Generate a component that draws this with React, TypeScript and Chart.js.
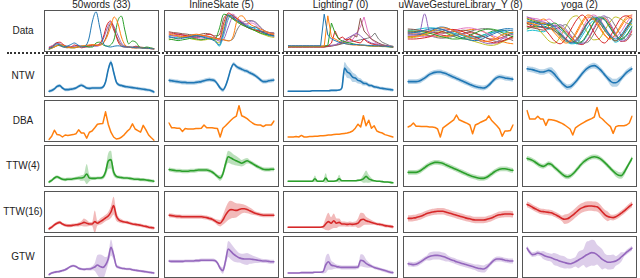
import React, { useEffect, useRef } from "react";
import { Chart, registerables } from "chart.js";
Chart.register(...registerables);

const COL_TITLES = ["50words (33)", "InlineSkate (5)", "Lighting7 (0)", "uWaveGestureLibrary_Y (8)", "yoga (2)"];
const ROW_LABELS = ["Data", "NTW", "DBA", "TTW(4)", "TTW(16)", "GTW"];
const TAB10 = ["#1f77b4", "#ff7f0e", "#2ca02c", "#d62728", "#9467bd", "#8c564b", "#e377c2", "#7f7f7f", "#bcbd22", "#17becf"];
const METHOD_COLORS = ["#1f77b4", "#ff7f0e", "#2ca02c", "#d62728", "#9467bd"];

// ---------- Data row ----------
const data50words = [
  [0.06,0.1,0.18,0.15,0.1,0.12,0.16,0.2,0.15,0.1,0.12,0.3,0.75,0.98,0.6,0.2,0.12,0.1,0.12,0.13,0.12,0.1,0.1,0.09,0.08,0.08,0.07,0.07,0.06,0.05],
  [0.05,0.08,0.12,0.16,0.14,0.1,0.08,0.08,0.1,0.12,0.14,0.15,0.16,0.15,0.14,0.2,0.35,0.6,0.85,0.7,0.35,0.15,0.1,0.08,0.07,0.08,0.07,0.06,0.06,0.05],
  [0.04,0.08,0.12,0.15,0.12,0.1,0.08,0.08,0.1,0.12,0.12,0.1,0.1,0.2,0.22,0.15,0.12,0.15,0.3,0.75,0.87,0.5,0.18,0.25,0.22,0.1,0.08,0.1,0.08,0.06],
  [0.08,0.12,0.2,0.22,0.16,0.1,0.1,0.15,0.12,0.08,0.1,0.12,0.15,0.14,0.18,0.35,0.65,0.75,0.55,0.25,0.12,0.1,0.1,0.08,0.1,0.09,0.08,0.07,0.06,0.05],
  [0.1,0.14,0.2,0.18,0.15,0.12,0.1,0.12,0.14,0.12,0.1,0.1,0.12,0.12,0.15,0.3,0.55,0.72,0.6,0.4,0.2,0.12,0.1,0.09,0.1,0.08,0.08,0.07,0.06,0.06],
  [0.05,0.1,0.15,0.13,0.1,0.08,0.09,0.1,0.1,0.12,0.12,0.14,0.15,0.14,0.16,0.2,0.4,0.68,0.5,0.3,0.15,0.12,0.1,0.1,0.12,0.1,0.09,0.08,0.07,0.06],
];
const dataInlineSkate = [
  [0.35,0.33,0.3,0.32,0.34,0.36,0.38,0.36,0.33,0.3,0.25,0.15,0.5,0.9,0.85,0.75,0.7,0.62,0.58,0.6,0.5,0.45,0.4,0.38],
  [0.42,0.4,0.38,0.36,0.37,0.4,0.42,0.4,0.38,0.35,0.32,0.3,0.28,0.25,0.35,0.8,0.88,0.75,0.65,0.6,0.55,0.5,0.45,0.42],
  [0.3,0.28,0.26,0.28,0.3,0.32,0.3,0.28,0.3,0.32,0.28,0.55,0.92,0.88,0.8,0.72,0.65,0.6,0.55,0.5,0.45,0.42,0.4,0.38],
  [0.45,0.44,0.42,0.4,0.38,0.36,0.35,0.37,0.4,0.42,0.35,0.3,0.7,0.95,0.88,0.8,0.7,0.62,0.56,0.52,0.48,0.45,0.42,0.4],
  [0.38,0.4,0.42,0.4,0.36,0.34,0.33,0.35,0.38,0.36,0.32,0.25,0.3,0.6,0.85,0.8,0.72,0.68,0.75,0.7,0.58,0.5,0.46,0.44],
  [0.48,0.46,0.45,0.43,0.42,0.4,0.4,0.42,0.44,0.42,0.38,0.4,0.82,0.9,0.82,0.75,0.68,0.6,0.55,0.52,0.5,0.48,0.46,0.45],
  [0.33,0.35,0.38,0.4,0.38,0.35,0.32,0.3,0.32,0.34,0.3,0.28,0.45,0.85,0.92,0.82,0.74,0.66,0.7,0.65,0.52,0.45,0.4,0.36],
  [0.4,0.38,0.36,0.34,0.35,0.37,0.38,0.38,0.36,0.34,0.32,0.3,0.28,0.26,0.3,0.55,0.7,0.75,0.76,0.72,0.6,0.5,0.46,0.44],
  [0.28,0.3,0.32,0.34,0.33,0.3,0.28,0.27,0.28,0.3,0.26,0.2,0.6,0.88,0.8,0.72,0.66,0.6,0.55,0.5,0.44,0.4,0.36,0.34],
  [0.36,0.34,0.33,0.35,0.38,0.4,0.38,0.36,0.34,0.32,0.3,0.12,0.4,0.8,0.9,0.78,0.7,0.65,0.6,0.55,0.5,0.42,0.38,0.36],
];
const dataLighting7 = [
  [0.13,0.13,0.13,0.13,0.13,0.13,0.13,0.13,0.13,0.13,0.92,0.4,0.3,0.26,0.22,0.2,0.18,0.17,0.16,0.16,0.15,0.15,0.14,0.14,0.13,0.13,0.12,0.12,0.11,0.1],
  [0.12,0.12,0.12,0.12,0.12,0.12,0.12,0.12,0.12,0.12,0.12,0.88,0.35,0.3,0.25,0.2,0.18,0.16,0.15,0.15,0.14,0.14,0.13,0.13,0.12,0.12,0.12,0.11,0.11,0.1],
  [0.11,0.11,0.11,0.11,0.11,0.11,0.11,0.11,0.11,0.11,0.12,0.14,0.7,0.45,0.3,0.25,0.22,0.2,0.18,0.16,0.15,0.14,0.13,0.12,0.12,0.12,0.11,0.11,0.1,0.1],
  [0.1,0.1,0.1,0.1,0.1,0.1,0.1,0.1,0.1,0.1,0.1,0.12,0.2,0.5,0.3,0.35,0.28,0.3,0.25,0.22,0.2,0.3,0.22,0.18,0.16,0.14,0.13,0.12,0.11,0.1],
  [0.12,0.12,0.12,0.12,0.12,0.12,0.12,0.12,0.12,0.12,0.12,0.13,0.14,0.15,0.2,0.25,0.3,0.35,0.4,0.45,0.38,0.3,0.25,0.2,0.18,0.16,0.14,0.13,0.12,0.11],
  [0.1,0.1,0.1,0.1,0.1,0.1,0.1,0.1,0.1,0.1,0.1,0.11,0.12,0.14,0.16,0.2,0.25,0.3,0.4,0.35,0.82,0.5,0.4,0.3,0.25,0.2,0.16,0.14,0.12,0.1],
  [0.11,0.11,0.11,0.11,0.11,0.11,0.11,0.11,0.11,0.11,0.11,0.12,0.13,0.15,0.18,0.2,0.22,0.25,0.3,0.45,0.6,0.85,0.5,0.3,0.22,0.18,0.15,0.13,0.12,0.11],
  [0.12,0.12,0.12,0.12,0.12,0.12,0.12,0.12,0.12,0.12,0.12,0.13,0.14,0.15,0.16,0.18,0.2,0.22,0.24,0.26,0.28,0.3,0.32,0.35,0.45,0.3,0.22,0.18,0.14,0.12],
];
const dataUWave = [
  [0.45,0.46,0.48,0.52,0.55,0.56,0.55,0.5,0.44,0.38,0.32,0.28,0.26,0.28,0.34,0.4,0.46,0.5,0.52,0.5],
  [0.35,0.36,0.38,0.42,0.48,0.54,0.58,0.57,0.52,0.46,0.4,0.35,0.3,0.26,0.24,0.26,0.32,0.4,0.45,0.46],
  [0.5,0.5,0.49,0.47,0.44,0.4,0.36,0.33,0.3,0.3,0.33,0.38,0.44,0.5,0.54,0.55,0.52,0.46,0.4,0.36],
  [0.3,0.3,0.31,0.33,0.36,0.42,0.48,0.52,0.54,0.52,0.48,0.42,0.36,0.3,0.25,0.22,0.2,0.24,0.3,0.35],
  [0.42,0.42,0.43,0.93,0.45,0.5,0.53,0.55,0.53,0.48,0.42,0.36,0.3,0.25,0.2,0.18,0.22,0.3,0.38,0.42],
  [0.55,0.54,0.52,0.5,0.48,0.46,0.45,0.46,0.48,0.5,0.52,0.5,0.46,0.4,0.34,0.28,0.24,0.25,0.3,0.38],
  [0.38,0.38,0.37,0.36,0.36,0.38,0.42,0.46,0.5,0.54,0.57,0.58,0.56,0.52,0.46,0.4,0.35,0.32,0.3,0.3],
  [0.48,0.47,0.45,0.42,0.38,0.34,0.32,0.33,0.36,0.4,0.44,0.48,0.52,0.55,0.56,0.54,0.48,0.4,0.32,0.26],
  [0.33,0.34,0.36,0.4,0.44,0.47,0.48,0.46,0.42,0.37,0.32,0.28,0.24,0.2,0.16,0.14,0.16,0.22,0.28,0.32],
  [0.52,0.53,0.55,0.57,0.58,0.57,0.54,0.5,0.46,0.42,0.38,0.36,0.36,0.38,0.42,0.46,0.48,0.48,0.46,0.44],
  [0.4,0.4,0.41,0.44,0.5,0.56,0.6,0.58,0.52,0.45,0.38,0.34,0.32,0.34,0.38,0.44,0.5,0.54,0.56,0.55],
  [0.44,0.43,0.42,0.4,0.38,0.36,0.35,0.36,0.4,0.46,0.5,0.53,0.54,0.52,0.46,0.38,0.3,0.24,0.2,0.18],
  [0.36,0.37,0.4,0.45,0.5,0.52,0.5,0.44,0.38,0.33,0.3,0.3,0.32,0.36,0.42,0.48,0.52,0.52,0.48,0.42],
  [0.47,0.48,0.5,0.5,0.48,0.44,0.4,0.38,0.38,0.4,0.44,0.46,0.44,0.4,0.34,0.3,0.3,0.34,0.4,0.46],
];
const dataYoga = [
  [0.75,0.72,0.68,0.65,0.7,0.6,0.45,0.3,0.2,0.25,0.45,0.7,0.85,0.8,0.6,0.4,0.3,0.4,0.6,0.8],
  [0.72,0.68,0.65,0.7,0.6,0.45,0.3,0.2,0.25,0.45,0.7,0.85,0.8,0.6,0.4,0.3,0.4,0.6,0.8,0.85],
  [0.8,0.75,0.72,0.68,0.65,0.7,0.6,0.45,0.3,0.2,0.25,0.45,0.7,0.85,0.8,0.6,0.4,0.3,0.4,0.6],
  [0.7,0.62,0.72,0.58,0.42,0.25,0.18,0.3,0.55,0.78,0.9,0.75,0.5,0.3,0.2,0.35,0.6,0.82,0.88,0.8],
  [0.85,0.8,0.75,0.72,0.68,0.62,0.66,0.55,0.38,0.22,0.18,0.3,0.55,0.8,0.88,0.7,0.45,0.25,0.3,0.55],
  [0.6,0.58,0.55,0.52,0.58,0.5,0.4,0.28,0.22,0.3,0.5,0.72,0.8,0.72,0.52,0.35,0.25,0.35,0.55,0.75],
  [0.85,0.82,0.8,0.75,0.8,0.68,0.5,0.32,0.22,0.3,0.55,0.8,0.9,0.82,0.62,0.42,0.35,0.48,0.7,0.9],
  [0.7,0.72,0.7,0.68,0.66,0.64,0.62,0.66,0.5,0.32,0.2,0.22,0.4,0.65,0.85,0.82,0.62,0.4,0.28,0.42],
  [0.65,0.7,0.55,0.4,0.25,0.2,0.35,0.6,0.82,0.88,0.7,0.45,0.28,0.3,0.5,0.72,0.85,0.8,0.7,0.65],
  [0.5,0.52,0.5,0.48,0.55,0.5,0.38,0.25,0.18,0.2,0.38,0.6,0.75,0.72,0.55,0.38,0.22,0.3,0.5,0.7],
  [0.68,0.66,0.62,0.6,0.58,0.62,0.55,0.42,0.28,0.18,0.22,0.42,0.68,0.82,0.78,0.58,0.38,0.28,0.38,0.62],
  [0.82,0.78,0.75,0.8,0.7,0.52,0.35,0.24,0.28,0.5,0.75,0.9,0.85,0.65,0.42,0.3,0.42,0.65,0.85,0.9],
  [0.55,0.6,0.62,0.6,0.64,0.55,0.42,0.3,0.22,0.28,0.48,0.7,0.82,0.76,0.58,0.38,0.26,0.36,0.56,0.78],
  [0.62,0.6,0.6,0.58,0.56,0.55,0.6,0.5,0.35,0.2,0.16,0.28,0.52,0.75,0.82,0.65,0.42,0.24,0.26,0.5],
];

// ---------- 50words ----------
const ntw50 = [0.12,0.14,0.18,0.24,0.26,0.2,0.16,0.16,0.17,0.18,0.2,0.24,0.27,0.24,0.2,0.19,0.2,0.2,0.2,0.2,0.22,0.35,0.66,0.84,0.6,0.35,0.28,0.26,0.24,0.23,0.22,0.21,0.2,0.19,0.18,0.17,0.16,0.15,0.13,0.1];
const ntw50Sd = [0.04,0.04,0.04,0.04,0.04,0.04,0.04,0.04,0.04,0.04,0.04,0.04,0.04,0.04,0.04,0.04,0.04,0.04,0.04,0.04,0.04,0.05,0.06,0.06,0.06,0.05,0.04,0.04,0.04,0.04,0.04,0.04,0.04,0.04,0.04,0.04,0.04,0.04,0.04,0.04];
const dba50 = [0.04,0.12,0.27,0.16,0.15,0.1,0.15,0.14,0.15,0.16,0.18,0.28,0.2,0.2,0.07,0.22,0.25,0.33,0.42,0.43,0.44,0.73,0.42,0.22,0.1,0.05,0.06,0.1,0.16,0.24,0.3,0.43,0.3,0.26,0.22,0.39,0.28,0.15,0.08,0.02];
const ttw4_50 = [0.1,0.14,0.2,0.23,0.2,0.17,0.16,0.17,0.17,0.18,0.19,0.2,0.2,0.22,0.3,0.2,0.19,0.19,0.2,0.2,0.22,0.35,0.62,0.66,0.35,0.24,0.22,0.21,0.2,0.2,0.19,0.18,0.17,0.17,0.16,0.16,0.15,0.14,0.13,0.12];
const ttw4_50Sd = [0.04,0.04,0.04,0.04,0.04,0.04,0.04,0.04,0.04,0.04,0.04,0.05,0.07,0.08,0.25,0.08,0.04,0.04,0.04,0.04,0.05,0.1,0.2,0.22,0.1,0.05,0.04,0.04,0.04,0.04,0.04,0.04,0.04,0.04,0.04,0.04,0.04,0.04,0.04,0.04];
const ttw16_50 = [0.08,0.12,0.18,0.22,0.24,0.2,0.17,0.16,0.16,0.17,0.18,0.19,0.21,0.24,0.22,0.2,0.2,0.26,0.22,0.26,0.3,0.35,0.4,0.5,0.66,0.4,0.3,0.27,0.25,0.24,0.22,0.2,0.19,0.18,0.17,0.15,0.14,0.12,0.11,0.1];
const ttw16_50Sd = [0.04,0.04,0.04,0.04,0.04,0.04,0.04,0.04,0.04,0.04,0.04,0.05,0.06,0.1,0.08,0.05,0.05,0.28,0.06,0.08,0.08,0.08,0.1,0.15,0.22,0.12,0.06,0.05,0.04,0.04,0.04,0.04,0.04,0.04,0.04,0.04,0.04,0.04,0.04,0.04];
const gtw50 = [0.06,0.1,0.12,0.13,0.14,0.16,0.18,0.22,0.26,0.28,0.26,0.22,0.2,0.19,0.2,0.2,0.22,0.25,0.3,0.26,0.24,0.3,0.45,0.74,0.55,0.28,0.24,0.22,0.21,0.2,0.2,0.18,0.17,0.16,0.15,0.14,0.13,0.12,0.11,0.1];
const gtw50Sd = [0.03,0.03,0.03,0.03,0.03,0.03,0.03,0.03,0.03,0.03,0.03,0.03,0.03,0.03,0.03,0.04,0.05,0.1,0.25,0.3,0.3,0.2,0.12,0.2,0.12,0.05,0.04,0.03,0.03,0.03,0.03,0.03,0.03,0.03,0.03,0.03,0.03,0.03,0.03,0.03];

// ---------- InlineSkate ----------
const ntwIS = [0.39,0.38,0.37,0.36,0.35,0.34,0.34,0.33,0.33,0.33,0.34,0.35,0.36,0.38,0.4,0.41,0.4,0.38,0.3,0.2,0.15,0.25,0.45,0.68,0.8,0.74,0.7,0.67,0.64,0.62,0.58,0.55,0.51,0.46,0.4,0.36,0.36,0.38,0.39,0.4];
const ntwISSd = [0.05,0.05,0.05,0.05,0.05,0.05,0.05,0.05,0.05,0.05,0.05,0.05,0.05,0.05,0.05,0.05,0.05,0.05,0.05,0.05,0.05,0.05,0.05,0.05,0.05,0.05,0.05,0.05,0.05,0.05,0.05,0.05,0.05,0.05,0.05,0.05,0.05,0.05,0.05,0.05];
const dbaIS = [0.45,0.33,0.33,0.32,0.32,0.24,0.31,0.3,0.3,0.3,0.31,0.31,0.32,0.4,0.33,0.33,0.33,0.32,0.31,0.1,0.32,0.38,0.45,0.52,0.58,0.62,0.88,0.63,0.6,0.56,0.5,0.45,0.41,0.4,0.4,0.36,0.4,0.4,0.4,0.5];
const ttw4IS = [0.41,0.4,0.39,0.38,0.38,0.37,0.37,0.37,0.38,0.38,0.39,0.4,0.4,0.4,0.4,0.38,0.35,0.3,0.24,0.2,0.3,0.55,0.73,0.7,0.66,0.63,0.6,0.57,0.6,0.63,0.6,0.56,0.52,0.48,0.45,0.42,0.41,0.41,0.42,0.42];
const ttw4ISSd = [0.05,0.05,0.05,0.05,0.05,0.05,0.05,0.05,0.05,0.05,0.05,0.05,0.05,0.05,0.05,0.05,0.05,0.05,0.05,0.07,0.08,0.12,0.15,0.15,0.13,0.12,0.1,0.08,0.08,0.07,0.05,0.05,0.05,0.05,0.05,0.05,0.05,0.05,0.05,0.05];
const ttw16IS = [0.42,0.41,0.4,0.39,0.39,0.38,0.38,0.38,0.38,0.38,0.38,0.38,0.38,0.37,0.36,0.34,0.32,0.28,0.24,0.22,0.3,0.42,0.52,0.56,0.55,0.54,0.56,0.58,0.58,0.56,0.53,0.5,0.47,0.45,0.43,0.42,0.42,0.42,0.42,0.42];
const ttw16ISSd = [0.05,0.05,0.05,0.05,0.05,0.05,0.05,0.05,0.05,0.05,0.05,0.05,0.05,0.05,0.05,0.05,0.05,0.05,0.07,0.08,0.12,0.18,0.22,0.22,0.2,0.18,0.15,0.12,0.1,0.09,0.08,0.07,0.05,0.05,0.05,0.05,0.05,0.05,0.05,0.05];
const gtwIS = [0.4,0.39,0.39,0.39,0.39,0.39,0.4,0.4,0.4,0.4,0.41,0.41,0.42,0.42,0.42,0.42,0.42,0.41,0.35,0.22,0.16,0.4,0.7,0.64,0.57,0.52,0.48,0.46,0.45,0.45,0.45,0.44,0.43,0.42,0.41,0.4,0.4,0.39,0.38,0.38];
const gtwISSd = [0.04,0.04,0.04,0.04,0.04,0.04,0.04,0.04,0.04,0.04,0.04,0.04,0.04,0.04,0.04,0.04,0.04,0.04,0.04,0.06,0.08,0.12,0.2,0.2,0.18,0.15,0.12,0.12,0.14,0.15,0.12,0.1,0.08,0.07,0.05,0.05,0.05,0.05,0.05,0.05];

// ---------- Lighting7 ----------
const ntwL7 = [0.12,0.12,0.12,0.12,0.12,0.12,0.12,0.12,0.12,0.13,0.13,0.13,0.13,0.13,0.13,0.13,0.14,0.14,0.14,0.15,0.2,0.7,0.6,0.56,0.47,0.45,0.39,0.37,0.32,0.31,0.27,0.26,0.23,0.22,0.2,0.19,0.18,0.17,0.16,0.15];
const ntwL7Sd = [0.02,0.02,0.02,0.02,0.02,0.02,0.02,0.02,0.02,0.02,0.02,0.02,0.02,0.02,0.02,0.02,0.02,0.02,0.02,0.02,0.05,0.15,0.15,0.12,0.12,0.1,0.08,0.07,0.06,0.05,0.05,0.04,0.04,0.04,0.04,0.04,0.04,0.04,0.04,0.04];
const dbaL7 = [0.1,0.1,0.1,0.11,0.1,0.14,0.1,0.1,0.11,0.11,0.12,0.12,0.13,0.13,0.14,0.15,0.15,0.16,0.17,0.17,0.18,0.19,0.2,0.22,0.25,0.32,0.42,0.35,0.63,0.38,0.52,0.32,0.38,0.25,0.22,0.2,0.16,0.14,0.12,0.1];
const ttw4L7 = [0.12,0.12,0.12,0.12,0.12,0.12,0.12,0.12,0.12,0.12,0.18,0.12,0.12,0.12,0.2,0.12,0.12,0.12,0.13,0.18,0.13,0.13,0.13,0.13,0.13,0.13,0.14,0.15,0.18,0.24,0.18,0.15,0.13,0.12,0.12,0.11,0.1,0.1,0.09,0.08];
const ttw4L7Sd = [0.02,0.02,0.02,0.02,0.02,0.02,0.02,0.02,0.02,0.02,0.08,0.02,0.02,0.02,0.12,0.02,0.02,0.02,0.02,0.1,0.02,0.02,0.02,0.02,0.02,0.02,0.02,0.03,0.1,0.15,0.1,0.05,0.02,0.02,0.02,0.02,0.02,0.02,0.02,0.02];
const ttw16L7 = [0.12,0.12,0.12,0.12,0.12,0.12,0.12,0.12,0.12,0.12,0.12,0.12,0.12,0.13,0.2,0.26,0.22,0.28,0.22,0.24,0.2,0.2,0.19,0.2,0.19,0.2,0.22,0.3,0.32,0.28,0.26,0.24,0.22,0.2,0.19,0.18,0.16,0.15,0.14,0.13];
const ttw16L7Sd = [0.02,0.02,0.02,0.02,0.02,0.02,0.02,0.02,0.02,0.02,0.02,0.02,0.02,0.04,0.15,0.22,0.15,0.18,0.12,0.1,0.06,0.06,0.06,0.06,0.06,0.06,0.12,0.18,0.15,0.1,0.08,0.06,0.04,0.04,0.04,0.04,0.04,0.04,0.04,0.04];
const gtwL7 = [0.1,0.1,0.1,0.1,0.1,0.11,0.11,0.11,0.11,0.11,0.12,0.12,0.12,0.13,0.3,0.38,0.3,0.28,0.26,0.25,0.24,0.24,0.24,0.24,0.24,0.24,0.25,0.42,0.4,0.34,0.3,0.27,0.24,0.22,0.2,0.18,0.16,0.14,0.12,0.11];
const gtwL7Sd = [0.02,0.02,0.02,0.02,0.02,0.02,0.02,0.02,0.02,0.02,0.02,0.02,0.02,0.04,0.2,0.2,0.12,0.08,0.05,0.05,0.05,0.05,0.05,0.05,0.05,0.05,0.05,0.15,0.15,0.1,0.07,0.04,0.04,0.04,0.04,0.04,0.04,0.04,0.04,0.04];

// ---------- uWaveGestureLibrary_Y ----------
const ntwUW = [0.36,0.36,0.36,0.36,0.37,0.4,0.44,0.49,0.54,0.57,0.59,0.6,0.6,0.58,0.56,0.53,0.5,0.47,0.44,0.41,0.38,0.35,0.32,0.29,0.26,0.24,0.22,0.21,0.2,0.22,0.27,0.34,0.41,0.46,0.48,0.47,0.45,0.44,0.43,0.42];
const ntwUWSd = [0.06,0.06,0.06,0.06,0.06,0.06,0.06,0.06,0.06,0.06,0.06,0.06,0.06,0.06,0.06,0.06,0.06,0.06,0.06,0.06,0.06,0.06,0.06,0.06,0.06,0.06,0.06,0.06,0.06,0.06,0.06,0.06,0.06,0.06,0.06,0.06,0.06,0.06,0.06,0.06];
const dbaUW = [0.35,0.38,0.45,0.37,0.37,0.36,0.36,0.36,0.35,0.35,0.34,0.3,0.1,0.33,0.38,0.43,0.48,0.53,0.65,0.53,0.5,0.47,0.44,0.4,0.18,0.4,0.43,0.47,0.5,0.53,0.63,0.52,0.45,0.38,0.3,0.12,0.25,0.25,0.26,0.4];
const ttw4UW = [0.34,0.34,0.34,0.34,0.36,0.4,0.45,0.5,0.54,0.57,0.59,0.59,0.58,0.56,0.53,0.5,0.47,0.44,0.41,0.38,0.35,0.32,0.29,0.26,0.24,0.22,0.2,0.19,0.19,0.21,0.25,0.3,0.35,0.39,0.42,0.43,0.43,0.42,0.4,0.39];
const ttw4UWSd = [0.06,0.06,0.06,0.06,0.06,0.06,0.06,0.06,0.06,0.06,0.06,0.06,0.06,0.06,0.06,0.06,0.06,0.06,0.06,0.06,0.06,0.06,0.06,0.06,0.06,0.06,0.06,0.06,0.06,0.06,0.06,0.06,0.06,0.06,0.06,0.06,0.06,0.06,0.06,0.06];
const ttw16UW = [0.34,0.34,0.35,0.36,0.38,0.4,0.43,0.46,0.48,0.5,0.51,0.52,0.52,0.52,0.5,0.48,0.46,0.44,0.42,0.4,0.38,0.36,0.34,0.33,0.31,0.3,0.3,0.3,0.3,0.31,0.33,0.35,0.38,0.41,0.43,0.44,0.45,0.45,0.45,0.44];
const ttw16UWSd = [0.08,0.08,0.08,0.08,0.08,0.08,0.08,0.08,0.08,0.08,0.08,0.08,0.08,0.08,0.08,0.08,0.08,0.08,0.08,0.08,0.08,0.08,0.08,0.08,0.08,0.08,0.08,0.08,0.08,0.08,0.08,0.08,0.08,0.08,0.08,0.08,0.08,0.08,0.08,0.08];
const gtwUW = [0.33,0.32,0.31,0.32,0.35,0.39,0.44,0.48,0.51,0.53,0.54,0.54,0.53,0.51,0.49,0.46,0.43,0.41,0.38,0.36,0.34,0.32,0.3,0.28,0.26,0.24,0.22,0.21,0.2,0.23,0.29,0.36,0.42,0.45,0.45,0.44,0.42,0.41,0.4,0.4];
const gtwUWSd = [0.06,0.06,0.06,0.06,0.06,0.06,0.06,0.06,0.1,0.1,0.1,0.1,0.1,0.1,0.1,0.07,0.07,0.07,0.07,0.07,0.07,0.07,0.07,0.07,0.07,0.07,0.09,0.09,0.09,0.09,0.06,0.06,0.06,0.06,0.06,0.06,0.06,0.06,0.06,0.06];

// ---------- yoga ----------
const ntwYoga = [0.68,0.67,0.66,0.64,0.62,0.6,0.6,0.62,0.64,0.62,0.56,0.48,0.4,0.32,0.26,0.22,0.23,0.28,0.35,0.43,0.52,0.6,0.67,0.72,0.75,0.76,0.73,0.67,0.6,0.52,0.44,0.37,0.33,0.33,0.37,0.44,0.52,0.59,0.64,0.68];
const ntwYogaSd = [0.07,0.07,0.07,0.07,0.07,0.07,0.07,0.07,0.07,0.1,0.1,0.1,0.07,0.07,0.07,0.07,0.07,0.07,0.07,0.07,0.07,0.07,0.07,0.07,0.07,0.07,0.07,0.07,0.07,0.07,0.07,0.1,0.1,0.1,0.1,0.07,0.07,0.07,0.07,0.07];
const dbaYoga = [0.76,0.55,0.55,0.55,0.62,0.55,0.55,0.39,0.54,0.53,0.52,0.5,0.47,0.44,0.4,0.35,0.3,0.15,0.33,0.38,0.42,0.46,0.5,0.53,0.56,0.6,0.84,0.6,0.55,0.48,0.42,0.36,0.19,0.36,0.38,0.38,0.38,0.4,0.45,0.62];
const ttw4Yoga = [0.69,0.67,0.64,0.6,0.55,0.51,0.49,0.52,0.56,0.54,0.48,0.42,0.36,0.3,0.25,0.23,0.25,0.3,0.37,0.45,0.53,0.6,0.65,0.69,0.72,0.73,0.72,0.69,0.64,0.58,0.51,0.44,0.37,0.31,0.27,0.26,0.33,0.45,0.57,0.69];
const ttw4YogaSd = [0.06,0.06,0.06,0.06,0.06,0.06,0.06,0.06,0.06,0.06,0.06,0.06,0.06,0.06,0.06,0.06,0.06,0.06,0.06,0.06,0.06,0.06,0.06,0.06,0.06,0.06,0.06,0.06,0.06,0.06,0.06,0.06,0.06,0.08,0.08,0.08,0.08,0.06,0.06,0.06];
const ttw16Yoga = [0.69,0.66,0.62,0.58,0.55,0.52,0.51,0.5,0.49,0.48,0.45,0.42,0.38,0.34,0.32,0.33,0.37,0.42,0.48,0.54,0.59,0.62,0.64,0.65,0.65,0.64,0.63,0.58,0.5,0.43,0.39,0.37,0.36,0.38,0.42,0.47,0.52,0.58,0.64,0.69];
const ttw16YogaSd = [0.07,0.07,0.07,0.07,0.07,0.07,0.07,0.07,0.07,0.07,0.07,0.07,0.07,0.07,0.12,0.12,0.12,0.12,0.12,0.12,0.12,0.12,0.12,0.12,0.12,0.12,0.12,0.12,0.12,0.12,0.12,0.07,0.07,0.07,0.07,0.07,0.07,0.07,0.07,0.07];
const gtwYoga = [0.72,0.62,0.56,0.57,0.6,0.58,0.55,0.52,0.5,0.48,0.45,0.43,0.4,0.38,0.36,0.34,0.33,0.35,0.38,0.42,0.46,0.5,0.55,0.58,0.61,0.6,0.56,0.5,0.44,0.4,0.37,0.37,0.38,0.4,0.44,0.5,0.56,0.62,0.67,0.72];
const gtwYogaSd = [0.06,0.06,0.06,0.06,0.06,0.06,0.1,0.1,0.1,0.1,0.15,0.15,0.15,0.15,0.15,0.12,0.12,0.12,0.12,0.2,0.2,0.2,0.32,0.32,0.32,0.32,0.25,0.25,0.25,0.18,0.18,0.18,0.18,0.12,0.12,0.12,0.06,0.06,0.06,0.06];

const DATA_ROW = [data50words, dataInlineSkate, dataLighting7, dataUWave, dataYoga];
const NTW_ROW = [[ntw50, ntw50Sd], [ntwIS, ntwISSd], [ntwL7, ntwL7Sd], [ntwUW, ntwUWSd], [ntwYoga, ntwYogaSd]];
const DBA_ROW = [dba50, dbaIS, dbaL7, dbaUW, dbaYoga];
const TTW4_ROW = [[ttw4_50, ttw4_50Sd], [ttw4IS, ttw4ISSd], [ttw4L7, ttw4L7Sd], [ttw4UW, ttw4UWSd], [ttw4Yoga, ttw4YogaSd]];
const TTW16_ROW = [[ttw16_50, ttw16_50Sd], [ttw16IS, ttw16ISSd], [ttw16L7, ttw16L7Sd], [ttw16UW, ttw16UWSd], [ttw16Yoga, ttw16YogaSd]];
const GTW_ROW = [[gtw50, gtw50Sd], [gtwIS, gtwISSd], [gtwL7, gtwL7Sd], [gtwUW, gtwUWSd], [gtwYoga, gtwYogaSd]];

const COL_LEFT = [44, 164, 283, 403, 522];
const ROW_TOP = [10, 55, 100, 145, 191, 236];
const BOX_W = 115;
const BOX_H = 42;
const FONT = '"Liberation Sans", Arial, sans-serif';

function hexA(hex: string, a: number) {
  const r = parseInt(hex.slice(1, 3), 16), g = parseInt(hex.slice(3, 5), 16), b = parseInt(hex.slice(5, 7), 16);
  return `rgba(${r},${g},${b},${a})`;
}

function bandSets(mean: number[], sd: number[], color: string) {
  return [
    { data: mean.map((v, i) => v + sd[i]), borderWidth: 0, borderColor: "rgba(0,0,0,0)", backgroundColor: hexA(color, 0.32), fill: "+1", cubicInterpolationMode: "monotone" },
    { data: mean.map((v, i) => v - sd[i]), borderWidth: 0, borderColor: "rgba(0,0,0,0)", fill: false, cubicInterpolationMode: "monotone" },
    { data: mean, borderColor: color, borderWidth: 1.6, fill: false, cubicInterpolationMode: "monotone" },
  ];
}

function Panel({ left, top, datasets }: { left: number; top: number; datasets: any[] }) {
  const ref = useRef<HTMLCanvasElement>(null);
  useEffect(() => {
    const n = datasets[0].data.length;
    const chart = new Chart(ref.current!, {
      type: "line",
      data: { labels: Array.from({ length: n }, (_, i) => i), datasets },
      options: {
        animation: false,
        responsive: false,
        devicePixelRatio: 1,
        events: [],
        layout: { padding: { left: 4, right: 4, top: 0, bottom: 0 } },
        plugins: { legend: { display: false }, tooltip: { enabled: false } },
        elements: { point: { radius: 0 }, line: { borderJoinStyle: "round", borderCapStyle: "round" } },
        scales: { x: { display: false }, y: { display: false, min: 0, max: 1 } },
      } as any,
    });
    return () => chart.destroy();
  }, []);
  return (
    <div style={{ position: "absolute", left, top, width: BOX_W, height: BOX_H, boxSizing: "border-box", border: "1px solid #555" }}>
      <canvas ref={ref} width={BOX_W - 2} height={BOX_H - 2} style={{ display: "block" }} />
    </div>
  );
}

export default function App() {
  const panels: any[] = [];
  for (let c = 0; c < 5; c++) {
    const dataSets = DATA_ROW[c].map((s, k) => ({ data: s, borderColor: TAB10[k % 10], borderWidth: 1, fill: false, cubicInterpolationMode: c === 2 ? "default" : "monotone" }));
    panels.push(<Panel key={`d${c}`} left={COL_LEFT[c]} top={ROW_TOP[0]} datasets={dataSets} />);
    panels.push(<Panel key={`n${c}`} left={COL_LEFT[c]} top={ROW_TOP[1]} datasets={bandSets(NTW_ROW[c][0], NTW_ROW[c][1], METHOD_COLORS[0])} />);
    panels.push(<Panel key={`b${c}`} left={COL_LEFT[c]} top={ROW_TOP[2]} datasets={[{ data: DBA_ROW[c], borderColor: METHOD_COLORS[1], borderWidth: 1.5, fill: false }]} />);
    panels.push(<Panel key={`t4${c}`} left={COL_LEFT[c]} top={ROW_TOP[3]} datasets={bandSets(TTW4_ROW[c][0], TTW4_ROW[c][1], METHOD_COLORS[2])} />);
    panels.push(<Panel key={`t16${c}`} left={COL_LEFT[c]} top={ROW_TOP[4]} datasets={bandSets(TTW16_ROW[c][0], TTW16_ROW[c][1], METHOD_COLORS[3])} />);
    panels.push(<Panel key={`g${c}`} left={COL_LEFT[c]} top={ROW_TOP[5]} datasets={bandSets(GTW_ROW[c][0], GTW_ROW[c][1], METHOD_COLORS[4])} />);
  }
  return (
    <div style={{ position: "absolute", left: 0, top: 0, width: 640, height: 278, background: "#fff", fontFamily: FONT, color: "#222", overflow: "hidden" }}>
      {COL_TITLES.map((t, c) => (
        <div key={t} style={{ position: "absolute", left: COL_LEFT[c] - 20, width: BOX_W + 40, top: 0, textAlign: "center", fontSize: 10, lineHeight: "10px", whiteSpace: "nowrap" }}>{t}</div>
      ))}
      {ROW_LABELS.map((t, r) => (
        <div key={t} style={{ position: "absolute", left: 0, width: 46, top: ROW_TOP[r] + BOX_H / 2 - 6, textAlign: "center", fontSize: 10, lineHeight: "12px", whiteSpace: "nowrap" }}>{t}</div>
      ))}
      <div style={{ position: "absolute", left: 7, right: 0, top: 52, height: 0, borderTop: "2px dotted #333" }} />
      {panels}
    </div>
  );
}
